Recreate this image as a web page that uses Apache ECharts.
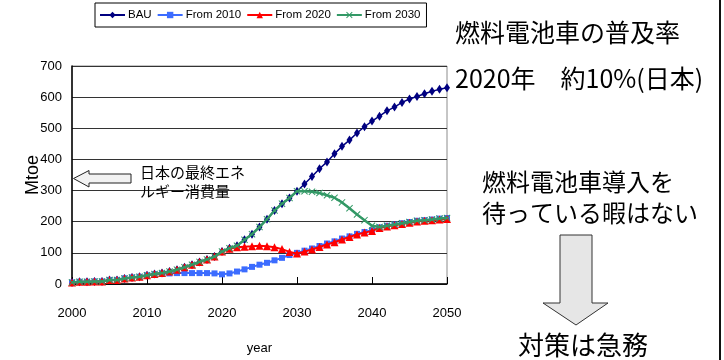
<!DOCTYPE html>
<html>
<head>
<meta charset="utf-8">
<script src="https://cdn.jsdelivr.net/npm/echarts@6/dist/echarts.min.js"></script>
<style>
  html, body { margin: 0; padding: 0; background: #fff; }
  #chart { width: 724px; height: 360px; }
</style>
</head>
<body>
<div id="chart"></div>
<script>
// Final energy consumption scenarios (Mtoe), 2000-2050
const years = [2000, 2001, 2002, 2003, 2004, 2005, 2006, 2007, 2008, 2009,
  2010, 2011, 2012, 2013, 2014, 2015, 2016, 2017, 2018, 2019,
  2020, 2021, 2022, 2023, 2024, 2025, 2026, 2027, 2028, 2029,
  2030, 2031, 2032, 2033, 2034, 2035, 2036, 2037, 2038, 2039,
  2040, 2041, 2042, 2043, 2044, 2045, 2046, 2047, 2048, 2049, 2050];

const bau = [5, 7, 7, 8, 8, 13, 13, 18, 21, 23,
  28, 32, 35, 40, 46, 54, 62, 71, 79, 88,
  104, 115, 123, 142, 160, 183, 208, 236, 258, 276,
  298, 321, 345, 370, 392, 418, 442, 462, 485, 505,
  523, 539, 556, 568, 583, 594, 602, 611, 619, 625, 630];

const from2010 = [5, 7, 7, 8, 8, 13, 13, 18, 21, 23,
  28, 31, 33, 34, 35, 35, 35, 35, 35, 34,
  31, 34, 40, 47, 55, 62, 68, 76, 84, 93,
  100, 107, 114, 122, 130, 137, 146, 153, 161, 167,
  173, 182, 187, 191, 195, 199, 203, 205, 207, 210, 212];

const from2020 = [5, 7, 7, 8, 8, 13, 13, 18, 21, 23,
  28, 32, 35, 40, 46, 54, 62, 71, 79, 88,
  104, 113, 118, 120, 121, 123, 121, 118, 112, 103,
  98, 104, 111, 119, 127, 134, 143, 151, 159, 165,
  170, 180, 185, 189, 193, 197, 201, 203, 205, 207, 209];

const from2030 = [5, 7, 7, 8, 8, 13, 13, 18, 21, 23,
  28, 32, 35, 40, 46, 54, 62, 71, 79, 88,
  104, 115, 123, 142, 160, 183, 208, 236, 258, 276,
  298, 298, 296, 292, 285, 277, 262, 243, 223, 205,
  187, 183, 187, 191, 195, 199, 203, 205, 207, 210, 212];

const seriesNames = ['BAU', 'From 2010', 'From 2020', 'From 2030'];
const yTicks = [0, 100, 200, 300, 400, 500, 600, 700];
const xTicks = [2000, 2010, 2020, 2030, 2040, 2050];

const latin = '"Liberation Sans", Arial, sans-serif';
const jp = '"Noto Sans CJK JP", "Noto Sans CJK SC", sans-serif';
const crossPath = 'path://M0,1L1,0L5,4L9,0L10,1L6,5L10,9L9,10L5,6L1,10L0,9L4,5Z';

const pair = (vals) => years.map((y, i) => [y, vals[i]]);

const chart = echarts.init(document.getElementById('chart'), null, { renderer: 'canvas' });

chart.setOption({
  animation: false,
  backgroundColor: '#ffffff',
  legend: {
    left: 95,
    top: 3,
    padding: [6, 6, 6, 4],
    itemGap: 5,
    itemWidth: 25,
    itemHeight: 8,
    borderColor: '#000',
    borderWidth: 1,
    textStyle: { fontFamily: latin, fontSize: 11.5, color: '#000', padding: [0, 0, 0, -2] },
    data: seriesNames
  },
  grid: {
    left: 72, right: 277, top: 66, bottom: 72,
    show: true, borderColor: '#8c8c8c', borderWidth: 1
  },
  xAxis: {
    type: 'value',
    min: xTicks[0], max: xTicks[xTicks.length - 1], interval: 10,
    name: 'year',
    nameLocation: 'middle',
    nameGap: 58,
    nameTextStyle: { fontFamily: latin, fontSize: 13, color: '#000' },
    axisLine: { lineStyle: { color: '#000', width: 1.5 } },
    axisTick: { inside: true, length: 7, lineStyle: { color: '#000' } },
    axisLabel: {
      margin: 23, fontFamily: latin, fontSize: 13, color: '#000',
      formatter: (v) => (xTicks.indexOf(v) >= 0 ? String(v) : '')
    },
    splitLine: { show: false }
  },
  yAxis: {
    type: 'value',
    min: yTicks[0], max: yTicks[yTicks.length - 1], interval: 100,
    name: 'Mtoe',
    nameLocation: 'middle',
    nameRotate: 90,
    nameGap: 30,
    nameMoveOverlap: false,
    nameTextStyle: { fontFamily: latin, fontSize: 18, color: '#000' },
    axisLine: { show: true, lineStyle: { color: '#000', width: 1.5 } },
    axisTick: { show: false },
    axisLabel: { margin: 10, fontFamily: latin, fontSize: 13, color: '#000' },
    splitLine: { show: true, lineStyle: { color: '#333', width: 1 } }
  },
  series: [
    {
      name: seriesNames[0], type: 'line', data: pair(bau),
      symbol: 'diamond', symbolSize: [6, 9],
      lineStyle: { color: '#000080', width: 1.5 },
      itemStyle: { color: '#000080' }, z: 2
    },
    {
      name: seriesNames[1], type: 'line', data: pair(from2010),
      symbol: 'rect', symbolSize: 6,
      lineStyle: { color: '#3c6cff', width: 2 },
      itemStyle: { color: '#3c6cff' }, z: 3
    },
    {
      name: seriesNames[2], type: 'line', data: pair(from2020),
      symbol: 'triangle', symbolSize: 8,
      lineStyle: { color: '#ff0000', width: 2 },
      itemStyle: { color: '#ff0000' }, z: 4
    },
    {
      name: seriesNames[3], type: 'line', data: pair(from2030),
      symbol: crossPath, symbolSize: 7,
      lineStyle: { color: '#339966', width: 2.5 },
      itemStyle: { color: '#339966' }, z: 5
    }
  ],
  graphic: [
    // hollow arrow pointing at the vertical axis
    {
      type: 'polygon', z: 10,
      shape: { points: [[73.5, 178.5], [89, 170.5], [89, 174], [131, 174], [131, 183], [89, 183], [89, 187]] },
      style: { fill: '#f2f2f2', stroke: '#222', lineWidth: 1 }
    },
    {
      type: 'text', z: 10, left: 140, top: 163,
      style: { text: '日本の最終エネ\nルギー消費量', font: '15px ' + jp, fill: '#000', lineHeight: 19 }
    },
    // side notes
    {
      type: 'text', z: 10, left: 455, top: 20,
      style: { text: '燃料電池車の普及率', font: '25px ' + jp, fill: '#000' }
    },
    {
      type: 'text', z: 10, left: 455, top: 66,
      style: { text: '2020年　約10%(日本)', font: '25px ' + jp, fill: '#000' }
    },
    {
      type: 'text', z: 10, left: 482, top: 166,
      style: { text: '燃料電池車導入を\n待っている暇はない', font: '24px ' + jp, fill: '#000', lineHeight: 31 }
    },
    {
      type: 'polygon', z: 10,
      shape: { points: [[560, 235], [592, 235], [592, 303], [608, 303], [576, 325], [543, 303], [560, 303]] },
      style: { fill: '#e6e6e6', stroke: '#333', lineWidth: 1 }
    },
    {
      type: 'text', z: 10, left: 518, top: 332,
      style: { text: '対策は急務', font: '26px ' + jp, fill: '#000' }
    },
    {
      type: 'line', z: 10,
      shape: { x1: 720, y1: 0, x2: 720, y2: 360 },
      style: { stroke: '#111', lineWidth: 2 }
    }
  ]
});
</script>
</body>
</html>
